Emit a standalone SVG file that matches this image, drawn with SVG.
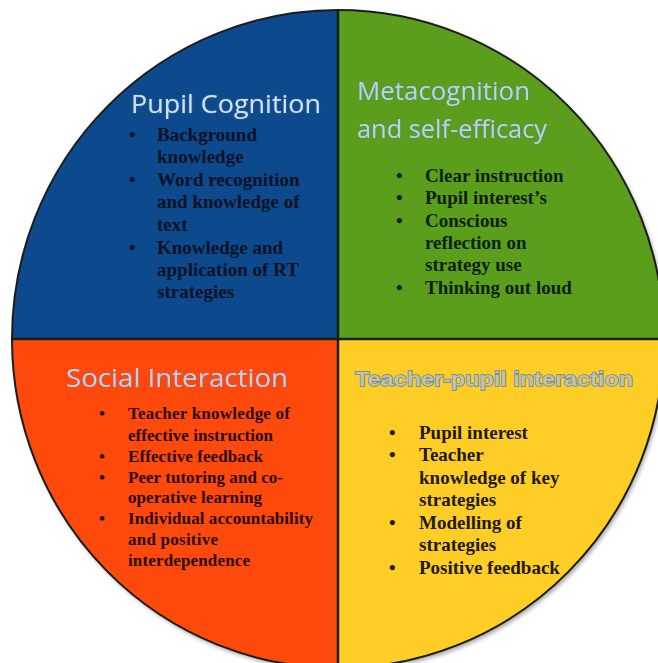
<svg xmlns="http://www.w3.org/2000/svg" width="658" height="663" viewBox="0 0 658 663">
  <defs>
    <filter id="shadow" x="-5%" y="-5%" width="110%" height="110%">
      <feGaussianBlur in="SourceAlpha" stdDeviation="2"/>
      <feOffset dx="2" dy="3" result="b"/>
      <feComponentTransfer><feFuncA type="linear" slope="0.35"/></feComponentTransfer>
      <feMerge><feMergeNode/><feMergeNode in="SourceGraphic"/></feMerge>
    </filter>
    <filter id="glow" x="-10%" y="-30%" width="120%" height="160%">
      <feGaussianBlur in="SourceAlpha" stdDeviation="1.2" result="b"/>
      <feFlood flood-color="#5d7590" flood-opacity="0.6"/>
      <feComposite in2="b" operator="in"/>
      <feMerge><feMergeNode/><feMergeNode in="SourceGraphic"/></feMerge>
    </filter>
  </defs>
  <style>
    .title { font-family: "Open Sans", "Liberation Sans", sans-serif; font-size: 26px; }
    .item { font-family: "Liberation Serif", "Times New Roman", serif; font-weight: bold; font-size: 19px; }
    .small { font-size: 17px; }
    .edge { fill: none; stroke: #1c1c1c; stroke-width: 2; }
    .div { stroke: #1a1f14; stroke-width: 2.5; }
  </style>
  <rect width="658" height="663" fill="#ffffff"/>

  <g filter="url(#shadow)">
    <path id="q-blue" d="M338,339 L12,339 A326,329 0 0 1 338,10 Z" fill="#0a4a8d"/>
    <path id="q-green" d="M338,339 L338,10 A326,329 0 0 1 664,339 Z" fill="#5a9e1f"/>
    <path id="q-yellow" d="M338,339 L664,339 A326,329 0 0 1 338,668 Z" fill="#fecd27"/>
    <path id="q-orange" d="M338,339 L338,668 A326,329 0 0 1 12,339 Z" fill="#fe4a11"/>
  </g>
  <g id="outline">
    <ellipse class="edge" cx="338" cy="339" rx="326" ry="329"/>
    <line class="div" x1="338" y1="10" x2="338" y2="668"/>
    <line class="div" x1="12" y1="339" x2="664" y2="339"/>
  </g>

  <g id="pupil-cognition">
    <text class="title" x="131" y="113" font-size="27" textLength="190" lengthAdjust="spacingAndGlyphs" fill="#cfe3f7" filter="url(#glow)">Pupil Cognition</text>
    <g class="item" fill="#0b1226">
      <text x="129" y="141">•</text><text x="157" y="141">Background</text>
      <text x="157" y="163">knowledge</text>
      <text x="129" y="186">•</text><text x="157" y="186">Word recognition</text>
      <text x="157" y="208">and knowledge of</text>
      <text x="157" y="231">text</text>
      <text x="129" y="254">•</text><text x="157" y="254">Knowledge and</text>
      <text x="157" y="276">application of RT</text>
      <text x="157" y="298">strategies</text>
    </g>
  </g>

  <g id="metacognition">
    <text class="title" x="357" y="100" font-size="25" textLength="173" lengthAdjust="spacingAndGlyphs" fill="#b7d2ef" filter="url(#glow)">Metacognition</text>
    <text class="title" x="357" y="138" font-size="25" textLength="190" lengthAdjust="spacingAndGlyphs" fill="#b7d2ef" filter="url(#glow)">and self-efficacy</text>
    <g class="item" fill="#0e1f08">
      <text x="396" y="182">•</text><text x="425" y="182">Clear instruction</text>
      <text x="396" y="204">•</text><text x="425" y="204">Pupil interest’s</text>
      <text x="396" y="227">•</text><text x="425" y="227">Conscious</text>
      <text x="425" y="249">reflection on</text>
      <text x="425" y="271">strategy use</text>
      <text x="396" y="294">•</text><text x="425" y="294">Thinking out loud</text>
    </g>
  </g>

  <g id="social-interaction">
    <text class="title" x="66" y="387" font-size="25" textLength="222" lengthAdjust="spacingAndGlyphs" fill="#c9cde4" filter="url(#glow)">Social Interaction</text>
    <g class="item small" fill="#2a0a02">
      <text x="99" y="419">•</text><text x="128" y="419" textLength="162">Teacher knowledge of</text>
      <text x="128" y="441" textLength="145">effective instruction</text>
      <text x="99" y="462">•</text><text x="128" y="462" textLength="135">Effective feedback</text>
      <text x="99" y="483">•</text><text x="128" y="483" textLength="155">Peer tutoring and co-</text>
      <text x="128" y="503" textLength="134">operative learning</text>
      <text x="99" y="524">•</text><text x="128" y="524" textLength="185">Individual accountability</text>
      <text x="128" y="545" textLength="90">and positive</text>
      <text x="128" y="566" textLength="122">interdependence</text>
    </g>
  </g>

  <g id="teacher-pupil-interaction">
    <text x="355" y="386" font-family="'Liberation Sans', Arial, sans-serif" font-weight="bold" font-size="21" textLength="278" lengthAdjust="spacingAndGlyphs" fill="#c6c49c" stroke="#5f82ad" stroke-width="1.4" paint-order="stroke">Teacher-pupil interaction</text>
    <g class="item" fill="#1e1a06">
      <text x="389" y="439">•</text><text x="419" y="439">Pupil interest</text>
      <text x="389" y="461">•</text><text x="419" y="461">Teacher</text>
      <text x="419" y="484">knowledge of key</text>
      <text x="419" y="506">strategies</text>
      <text x="389" y="529">•</text><text x="419" y="529">Modelling of</text>
      <text x="419" y="551">strategies</text>
      <text x="389" y="574">•</text><text x="419" y="574">Positive feedback</text>
    </g>
  </g>
</svg>
